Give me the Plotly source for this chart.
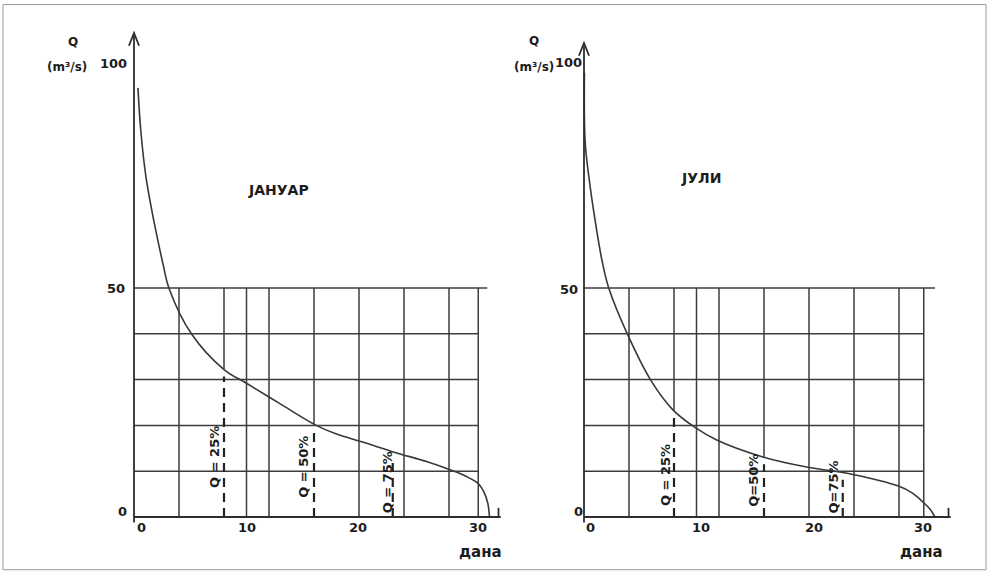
import numpy as np
import plotly.graph_objects as go

# ---------------- data ----------------
# January duration curve: days vs discharge Q (m3/s)
jan_days = [0.35, 0.6, 1.05, 1.8, 2.6, 3.1, 5.1, 8.0, 10.0, 13.0, 16.2, 18.0, 20.4, 23.2, 26.0, 28.1, 29.5, 30.6, 31.1, 31.45, 31.6]
jan_q    = [93.7, 84.5, 74.5, 64.2, 55.0, 50.0, 40.0, 32.2, 29.2, 24.7, 20.0, 18.1, 16.3, 14.1, 12.1, 10.3, 8.9, 7.3, 5.5, 3.0, 0.0]

# July duration curve
jul_days = [0.04, 0.1, 0.5, 1.1, 1.6, 2.2, 3.9, 6.0, 7.9, 9.9, 11.8, 15.9, 19.8, 23.9, 27.9, 29.2, 30.2, 30.8, 31.2]
jul_q    = [97.0, 82.0, 73.0, 63.0, 56.0, 50.0, 39.7, 29.6, 23.4, 19.5, 16.8, 13.1, 10.9, 9.3, 6.8, 5.2, 3.1, 1.6, 0.0]

# grid definitions (days / Q)
jan_vgrid = [4, 10, 12, 20, 24, 28]
jul_vgrid = [4, 10, 12, 20, 24, 28]
hgrid = [10, 20, 30, 40]
q_top_grid = 50
jan_grid_end = 30.6
jul_grid_end = 30.2
jan_top_end = 31.4
jul_top_end = 31.2
axis_end = 32.4

# percentile marks: (day, label)
jan_marks = [(8, "Q = 25%"), (16, "Q = 50%"), (23, "Q = 75%")]
jul_marks = [(8, "Q = 25%"), (16, "Q=50%"), (23, "Q=75%")]
solid_above = [8, 16]   # these verticals continue solid above the curve

x_ticks = [0, 10, 20, 30]
y_ticks = [0, 50, 100]

titles = ["ЈАНУАР", "ЈУЛИ"]
unit_q = "Q"
unit_lbl = "(m³/s)"
x_unit = "дана"

# ---------------- geometry ----------------
W, H = 991, 572
PX_DAY = 11.25
PX_Q = 4.58
Y0_PX = 517
LEFT0_PX = 134
RIGHT0_PX = 584

def xrange_for(x0px):
    r0 = -x0px / PX_DAY
    return [r0, r0 + W / PX_DAY]

yr = [-(H - Y0_PX) / PX_Q, Y0_PX / PX_Q]

INK = "#2e2e2e"
GRID = "#3c3c3c"
TXT = "#1c1c1c"
FONT = "DejaVu Sans"

fig = go.Figure()
shapes = []
annots = []


def fnt(size):
    return dict(family=FONT, size=size, color=TXT, weight="bold")


def panel(days, q, xr, yref, vgrid, grid_end, top_end, marks, title, title_pos,
          qlab_pos, unit_pos, tick_pos, xlab_pos, mark_pos, arrow_top):
    days = np.array(days)
    q = np.array(q)
    order = np.argsort(days)

    def qat(d):
        return float(np.interp(d, days[order], q[order]))

    line = dict(color=GRID, width=1.5)
    # horizontal grid
    for g in hgrid:
        shapes.append(dict(type="line", xref=xr, yref=yref, x0=0, x1=grid_end, y0=g, y1=g, line=line))
    shapes.append(dict(type="line", xref=xr, yref=yref, x0=0, x1=top_end, y0=q_top_grid, y1=q_top_grid, line=line))
    # vertical grid
    for v in vgrid:
        shapes.append(dict(type="line", xref=xr, yref=yref, x0=v, x1=v, y0=0, y1=q_top_grid, line=line))
    shapes.append(dict(type="line", xref=xr, yref=yref, x0=grid_end, x1=grid_end, y0=0, y1=q_top_grid, line=line))
    # percentile lines
    for d, lab in marks:
        qc = qat(d)
        if d in solid_above:
            shapes.append(dict(type="line", xref=xr, yref=yref, x0=d, x1=d, y0=qc, y1=q_top_grid, line=line))
        shapes.append(dict(type="line", xref=xr, yref=yref, x0=d, x1=d, y0=0, y1=qc - 1.5,
                           line=dict(color="#222", width=2.2, dash="9px,6px")))
    # axes
    axl = dict(color=INK, width=1.8)
    shapes.append(dict(type="line", xref=xr, yref=yref, x0=0, x1=0, y0=-1.2, y1=arrow_top, line=axl))
    shapes.append(dict(type="path", xref=xr, yref=yref,
                       path=f"M {-0.45} {arrow_top-2.8} L 0 {arrow_top} L {0.45} {arrow_top-2.8}", line=axl))
    shapes.append(dict(type="line", xref=xr, yref=yref, x0=0, x1=axis_end + 0.2, y0=0, y1=0, line=axl))
    shapes.append(dict(type="line", xref=xr, yref=yref, x0=axis_end, x1=axis_end, y0=0, y1=2.0, line=axl))

    # curve
    fig.add_trace(go.Scatter(x=days, y=q, mode="lines", xaxis=xr, yaxis=yref,
                             line=dict(color="#383838", width=1.6, shape="spline", smoothing=1.0),
                             hoverinfo="skip", showlegend=False))

    # tick labels
    for t in x_ticks:
        annots.append(dict(xref=xr, yref=yref, x=t + xlab_pos[t], y=-2.4, text=str(t), showarrow=False, font=fnt(13)))
    for t in y_ticks:
        dx, dy = tick_pos[t]
        annots.append(dict(xref=xr, yref=yref, x=dx, y=t + dy, text=str(t), showarrow=False, font=fnt(13)))
    annots.append(dict(xref=xr, yref=yref, x=qlab_pos[0], y=qlab_pos[1], text=unit_q, showarrow=False, font=fnt(12)))
    annots.append(dict(xref=xr, yref=yref, x=unit_pos[0], y=unit_pos[1], text=unit_lbl, showarrow=False, font=fnt(12)))
    annots.append(dict(xref=xr, yref=yref, x=title_pos[0], y=title_pos[1], text=title, showarrow=False, font=fnt(14)))
    annots.append(dict(xref=xr, yref=yref, x=xlab_pos["u"][0], y=xlab_pos["u"][1], text=x_unit, showarrow=False,
                       font=fnt(15)))
    for (d, lab), (mx, my) in zip(marks, mark_pos):
        annots.append(dict(xref=xr, yref=yref, x=mx, y=my, text=lab, showarrow=False, textangle=-90,
                           font=fnt(13)))


panel(jan_days, jan_q, "x", "y", jan_vgrid, jan_grid_end, jan_top_end, jan_marks, titles[0], (12.8, 71.5),
      (-5.42, 103.7), (-6.0, 98.3), {0: (-1.0, 1.3), 50: (-1.6, -0.2), 100: (-1.8, -0.9)},
      {0: 0.7, 10: 0.0, 20: -0.1, 30: 0.6, "u": (30.8, -7.6)},
      [(7.1, 13.1), (15.0, 10.9), (22.5, 7.6)], 105.7)

panel(jul_days, jul_q, "x2", "y2", jul_vgrid, jul_grid_end, jul_top_end, jul_marks, titles[1], (10.4, 74.0),
      (-4.44, 103.9), (-4.44, 98.3), {0: (-0.5, 1.3), 50: (-1.3, -0.4), 100: (-1.4, -0.7)},
      {0: 0.55, 10: 0.4, 20: 0.4, 30: 0.1, "u": (30.0, -7.6)},
      [(7.3, 9.2), (15.1, 8.1), (22.2, 6.6)], 103.5)

# page frame
shapes.append(dict(type="rect", xref="paper", yref="paper", x0=0.003, x1=0.995, y0=0.004, y1=0.992,
                   line=dict(color="#9a9a9a", width=1)))

ax_common = dict(visible=False, domain=[0, 1], fixedrange=True)
fig.update_layout(
    width=W, height=H,
    margin=dict(l=0, r=0, t=0, b=0),
    paper_bgcolor="white", plot_bgcolor="rgba(0,0,0,0)",
    xaxis=dict(range=xrange_for(LEFT0_PX), anchor="y", **ax_common),
    yaxis=dict(range=yr, anchor="x", **ax_common),
    xaxis2=dict(range=xrange_for(RIGHT0_PX), anchor="y2", **ax_common),
    yaxis2=dict(range=yr, anchor="x2", **ax_common),
    shapes=shapes, annotations=annots,
    showlegend=False,
)

fig.write_html("out.html", config={"displayModeBar": False},
               post_script="document.body.style.margin='0';document.body.style.overflow='hidden';")
